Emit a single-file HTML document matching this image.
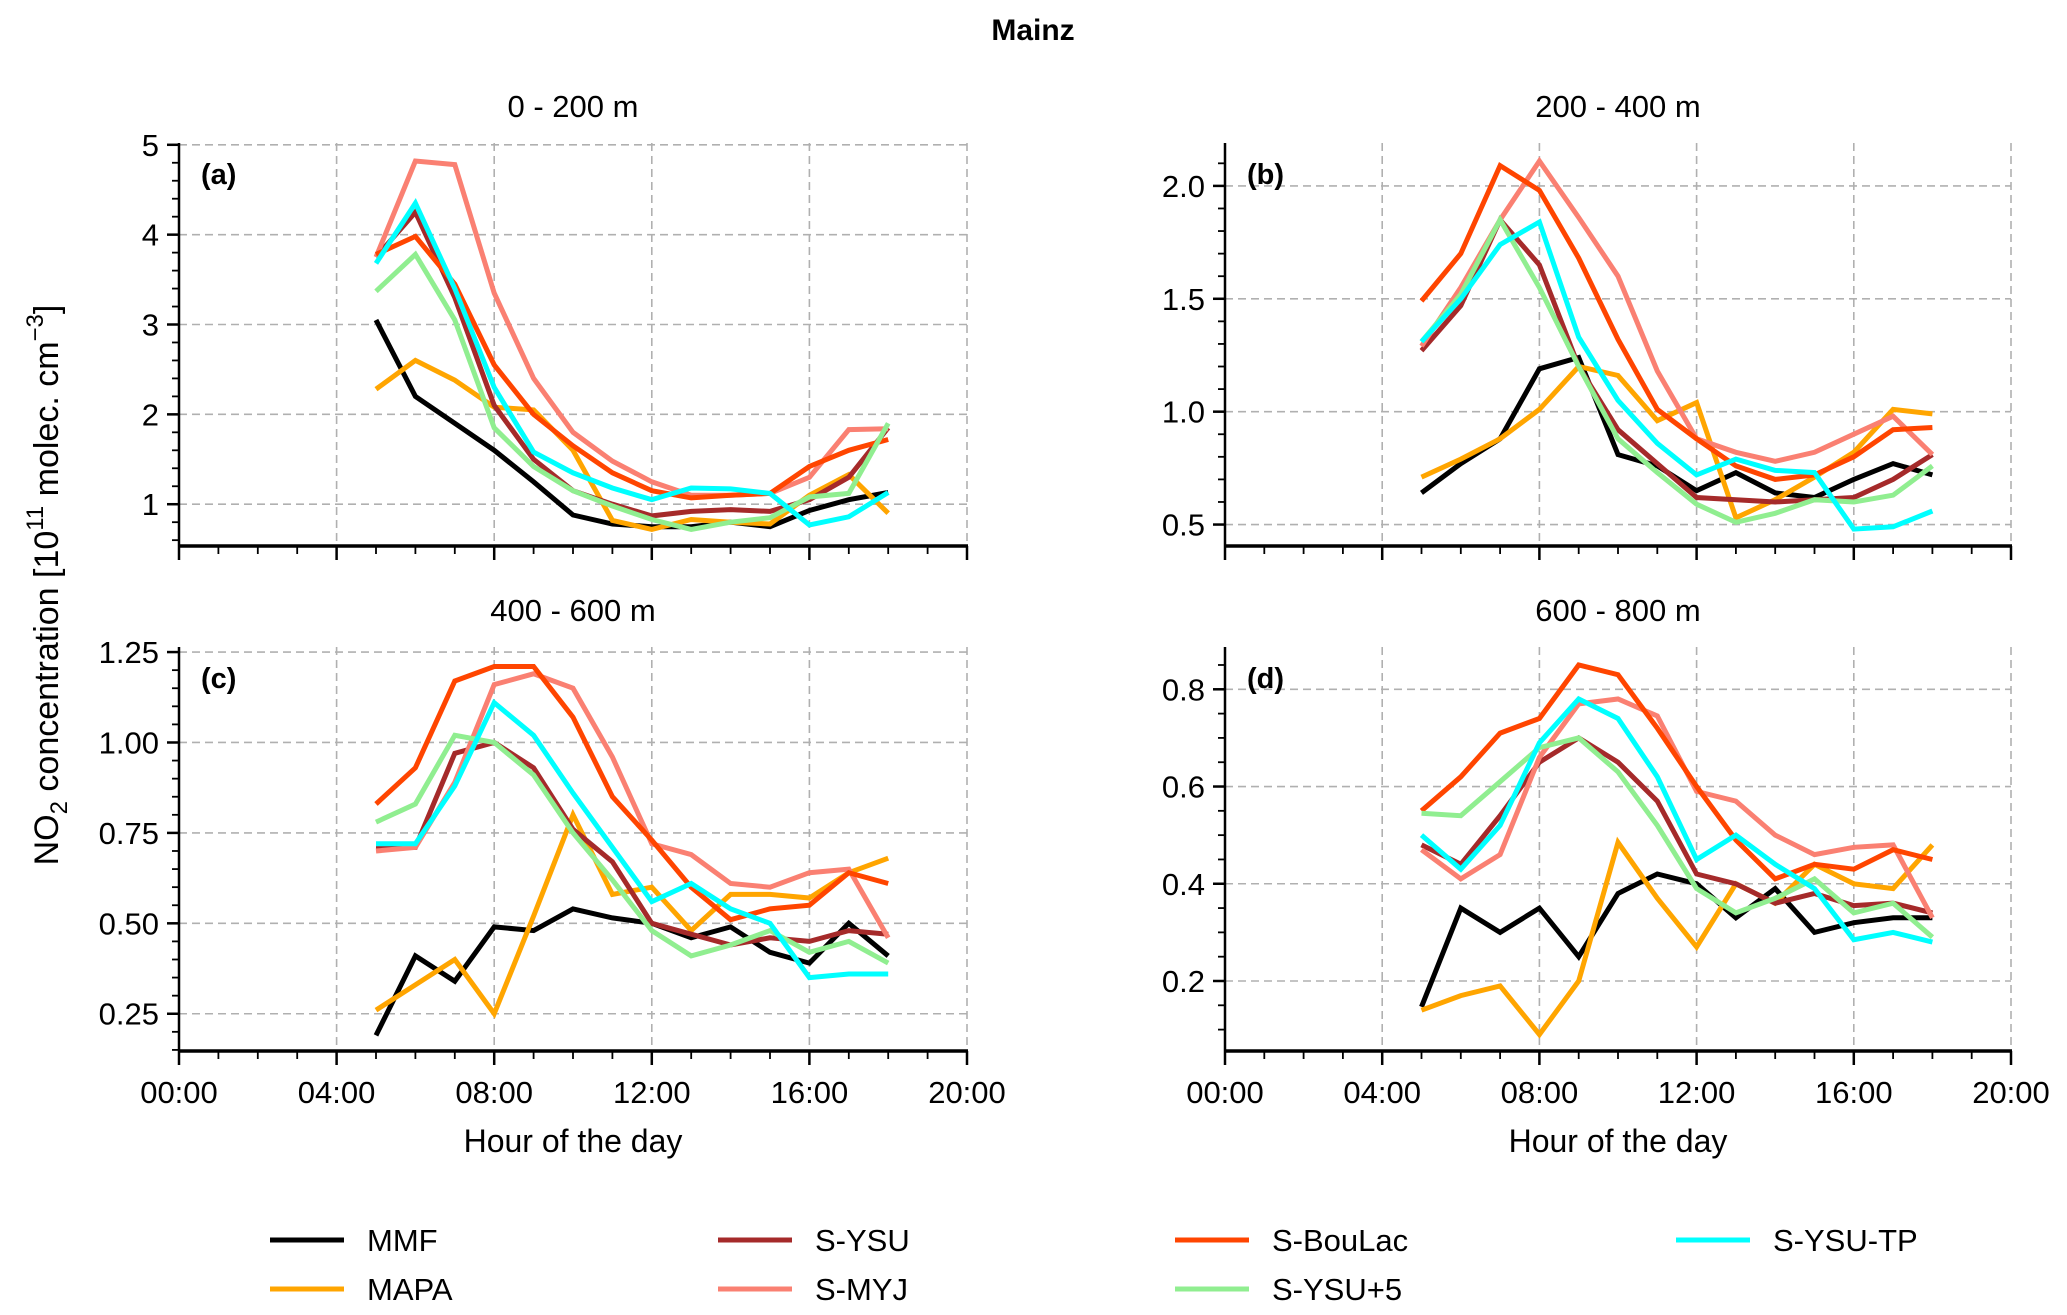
<!DOCTYPE html>
<html><head><meta charset="utf-8"><style>
html,body{margin:0;padding:0;background:#fff;}
svg{display:block;font-family:"Liberation Sans",Arial,sans-serif;}
</style></head><body>
<svg id="fig" width="2067" height="1315" viewBox="0 0 2067 1315" xmlns="http://www.w3.org/2000/svg">
<text x="1033" y="40" font-size="30" font-weight="bold" text-anchor="middle">Mainz</text>
<text transform="translate(58,585) rotate(-90)" font-size="34" text-anchor="middle">NO<tspan font-size="24" dy="9">2</tspan><tspan dy="-9"> concentration [10</tspan><tspan font-size="24" dy="-15">11</tspan><tspan dy="15">  molec. cm</tspan><tspan font-size="24" dy="-15">−3</tspan><tspan dy="15">]</tspan></text>
</svg>
<script>
const hours = [5,6,7,8,9,10,11,12,13,14,15,16,17,18];
const seriesNames = ["MMF","MAPA","S-YSU","S-MYJ","S-BouLac","S-YSU+5","S-YSU-TP"];
const seriesColors = ["#000000","#FFA500","#A52A2A","#FA8072","#FF4500","#90EE90","#00FFFF"];
const xTickLabels = ["00:00","04:00","08:00","12:00","16:00","20:00"];

const aMMF = [3.05,2.2,1.9,1.6,1.25,0.88,0.78,0.75,0.75,0.8,0.75,0.93,1.05,1.13];
const aMAPA = [2.28,2.6,2.38,2.08,2.05,1.6,0.82,0.72,0.83,0.8,0.78,1.1,1.33,0.9];
const aYSU = [3.75,4.25,3.3,2.1,1.5,1.15,1.0,0.87,0.92,0.94,0.92,1.05,1.3,1.85];
const aMYJ = [3.75,4.82,4.78,3.35,2.4,1.8,1.48,1.25,1.1,1.1,1.12,1.3,1.83,1.84];
const aBouLac = [3.78,3.98,3.45,2.55,2.0,1.65,1.35,1.15,1.07,1.1,1.12,1.42,1.6,1.72];
const aYSU5 = [3.37,3.78,3.05,1.85,1.42,1.15,0.98,0.83,0.72,0.8,0.85,1.08,1.12,1.9];
const aYSUTP = [3.68,4.35,3.4,2.3,1.58,1.35,1.18,1.05,1.18,1.17,1.12,0.77,0.86,1.13];

const bMMF = [0.64,0.77,0.88,1.19,1.24,0.81,0.76,0.65,0.73,0.64,0.62,0.70,0.77,0.72];
const bMAPA = [0.71,0.79,0.88,1.01,1.2,1.16,0.96,1.04,0.53,0.61,0.71,0.82,1.01,0.99];
const bYSU = [1.27,1.47,1.85,1.65,1.2,0.92,0.77,0.62,0.61,0.6,0.61,0.62,0.7,0.81];
const bMYJ = [1.29,1.55,1.85,2.11,1.86,1.6,1.18,0.88,0.82,0.78,0.82,0.9,0.98,0.81];
const bBouLac = [1.49,1.7,2.09,1.98,1.68,1.32,1.01,0.88,0.76,0.7,0.72,0.8,0.92,0.93];
const bYSU5 = [1.31,1.52,1.85,1.55,1.2,0.88,0.73,0.59,0.51,0.55,0.61,0.6,0.63,0.76];
const bYSUTP = [1.31,1.5,1.74,1.84,1.33,1.05,0.86,0.72,0.79,0.74,0.73,0.48,0.49,0.56];

const cMMF = [0.19,0.41,0.34,0.49,0.48,0.54,0.515,0.50,0.46,0.49,0.42,0.39,0.50,0.41];
const cMAPA = [0.26,0.33,0.40,0.25,0.52,0.80,0.58,0.60,0.48,0.58,0.58,0.57,0.64,0.68];
const cYSU = [0.71,0.71,0.97,1.0,0.93,0.76,0.67,0.50,0.47,0.44,0.46,0.45,0.48,0.47];
const cMYJ = [0.70,0.71,0.89,1.16,1.19,1.15,0.96,0.72,0.69,0.61,0.60,0.64,0.65,0.46];
const cBouLac = [0.83,0.93,1.17,1.21,1.21,1.07,0.85,0.73,0.60,0.51,0.54,0.55,0.64,0.61];
const cYSU5 = [0.78,0.83,1.02,1.0,0.91,0.75,0.62,0.48,0.41,0.44,0.48,0.42,0.45,0.39];
const cYSUTP = [0.72,0.72,0.88,1.11,1.02,0.86,0.71,0.56,0.61,0.54,0.50,0.35,0.36,0.36];

const dMMF = [0.147,0.35,0.30,0.35,0.25,0.38,0.42,0.40,0.33,0.39,0.30,0.32,0.33,0.33];
const dMAPA = [0.14,0.17,0.19,0.09,0.20,0.485,0.37,0.27,0.40,0.36,0.44,0.40,0.39,0.48];
const dYSU = [0.48,0.44,0.54,0.65,0.70,0.65,0.57,0.42,0.40,0.36,0.38,0.355,0.36,0.34];
const dMYJ = [0.47,0.41,0.46,0.66,0.77,0.78,0.745,0.59,0.57,0.50,0.46,0.475,0.48,0.33];
const dBouLac = [0.55,0.62,0.71,0.74,0.85,0.83,0.72,0.60,0.49,0.41,0.44,0.43,0.47,0.45];
const dYSU5 = [0.545,0.54,0.61,0.68,0.70,0.63,0.52,0.39,0.34,0.37,0.41,0.34,0.36,0.29];
const dYSUTP = [0.50,0.43,0.52,0.69,0.78,0.74,0.62,0.45,0.50,0.44,0.39,0.285,0.30,0.28];

const aTicks = [1,2,3,4,5];
const bTicks = [0.5,1.0,1.5,2.0];
const cTicks = [0.25,0.50,0.75,1.00,1.25];
const dTicks = [0.2,0.4,0.6,0.8];

const NS = "http://www.w3.org/2000/svg";
const svg = document.getElementById("fig");
function mk(tag, attrs, parent) {
  const e = document.createElementNS(NS, tag);
  for (const k in attrs) e.setAttribute(k, attrs[k]);
  (parent || svg).appendChild(e);
  return e;
}

const panels = [
  {id:"a", title:"0 - 200 m", L:179, R:967, T:143, B:546, ymin:0.535, ymax:5.02, ticks:aTicks, dec:0, minor:0.2, data:[aMMF,aMAPA,aYSU,aMYJ,aBouLac,aYSU5,aYSUTP], xlabels:false},
  {id:"b", title:"200 - 400 m", L:1225, R:2011, T:143, B:546, ymin:0.405, ymax:2.19, ticks:bTicks, dec:1, minor:0.1, data:[bMMF,bMAPA,bYSU,bMYJ,bBouLac,bYSU5,bYSUTP], xlabels:false},
  {id:"c", title:"400 - 600 m", L:179, R:967, T:647, B:1051, ymin:0.147, ymax:1.264, ticks:cTicks, dec:2, minor:0.05, data:[cMMF,cMAPA,cYSU,cMYJ,cBouLac,cYSU5,cYSUTP], xlabels:true},
  {id:"d", title:"600 - 800 m", L:1225, R:2011, T:647, B:1051, ymin:0.056, ymax:0.887, ticks:dTicks, dec:1, minor:0.05, data:[dMMF,dMAPA,dYSU,dMYJ,dBouLac,dYSU5,dYSUTP], xlabels:true}
];

panels.forEach(p => {
  const g = mk("g", {});
  
  
  const xs = h => p.L + (h / 20) * (p.R - p.L);
  const ys = v => p.B - (v - p.ymin) / (p.ymax - p.ymin) * (p.B - p.T);

  const t = mk("text", {x:(p.L+p.R)/2, y:p.T-26, "font-size":31, "text-anchor":"middle"}, g);
  t.textContent = p.title;
  
  

  for (let h = 0; h <= 20; h += 4) {
    const gl = mk("line", {x1:xs(h), x2:xs(h), y1:p.T, y2:p.B, stroke:"#b0b0b0", "stroke-width":1.6, "stroke-dasharray":"8,5"}, g);
    
    
  }
  p.ticks.forEach(v => {
    const gl = mk("line", {x1:p.L, x2:p.R, y1:ys(v), y2:ys(v), stroke:"#b0b0b0", "stroke-width":1.6, "stroke-dasharray":"8,5"}, g);
    
    
  });

  p.data.forEach((arr, i) => {
    const pts = arr.map((v, k) => xs(hours[k]).toFixed(1) + "," + ys(v).toFixed(1)).join(" ");
    const pl = mk("polyline", {points:pts, fill:"none", stroke:seriesColors[i], "stroke-width":5, "stroke-linejoin":"miter"}, g);
    
    
  });

  const ls = mk("line", {x1:p.L, x2:p.L, y1:p.T, y2:p.B, stroke:"#000", "stroke-width":2.5}, g);
  
  
  const bs = mk("line", {x1:p.L-1, x2:p.R+1, y1:p.B, y2:p.B, stroke:"#000", "stroke-width":3.5}, g);
  
  

  for (let h = 0; h <= 20; h++) {
    const major = h % 4 === 0;
    mk("line", {x1:xs(h), x2:xs(h), y1:p.B, y2:p.B + (major ? 14 : 8), stroke:"#000", "stroke-width": major ? 2.5 : 1.8}, g);
  }
  if (p.xlabels) {
    xTickLabels.forEach((lab, i) => {
      const tl = mk("text", {x:xs(i*4), y:p.B+52, "font-size":31, "text-anchor":"middle"}, g);
      tl.textContent = lab;
      
      
    });
    const xt = mk("text", {x:(p.L+p.R)/2, y:p.B+101, "font-size":32, "text-anchor":"middle"}, g);
    xt.textContent = "Hour of the day";
    
    
  }
  for (let v = Math.ceil(p.ymin / p.minor - 1e-6) * p.minor; v <= p.ymax + 1e-9; v += p.minor) {
    mk("line", {x1:p.L - 7, x2:p.L, y1:ys(v), y2:ys(v), stroke:"#000", "stroke-width":1.8}, g);
  }
  p.ticks.forEach(v => {
    mk("line", {x1:p.L - 12, x2:p.L, y1:ys(v), y2:ys(v), stroke:"#000", "stroke-width":2.5}, g);
    const tl = mk("text", {x:p.L - 20, y:ys(v) + 11, "font-size":31, "text-anchor":"end"}, g);
    tl.textContent = v.toFixed(p.dec);
    
    
  });
  const pl = mk("text", {x:p.L + 22, y:p.T + 41, "font-size":29, "font-weight":"bold"}, g);
  pl.textContent = "(" + p.id + ")";
  
  
});

const legX = [270, 718, 1175, 1676];
const legY = [1240, 1289];
const lg = mk("g", {});


seriesNames.forEach((n, i) => {
  const col = Math.floor(i / 2), row = i % 2;
  const e = mk("g", {}, lg);
  
  
  mk("line", {x1:legX[col], x2:legX[col]+74, y1:legY[row], y2:legY[row], stroke:seriesColors[i], "stroke-width":5}, e);
  const t = mk("text", {x:legX[col]+97, y:legY[row]+11, "font-size":31}, e);
  t.textContent = n;
});
</script>
</body></html>
